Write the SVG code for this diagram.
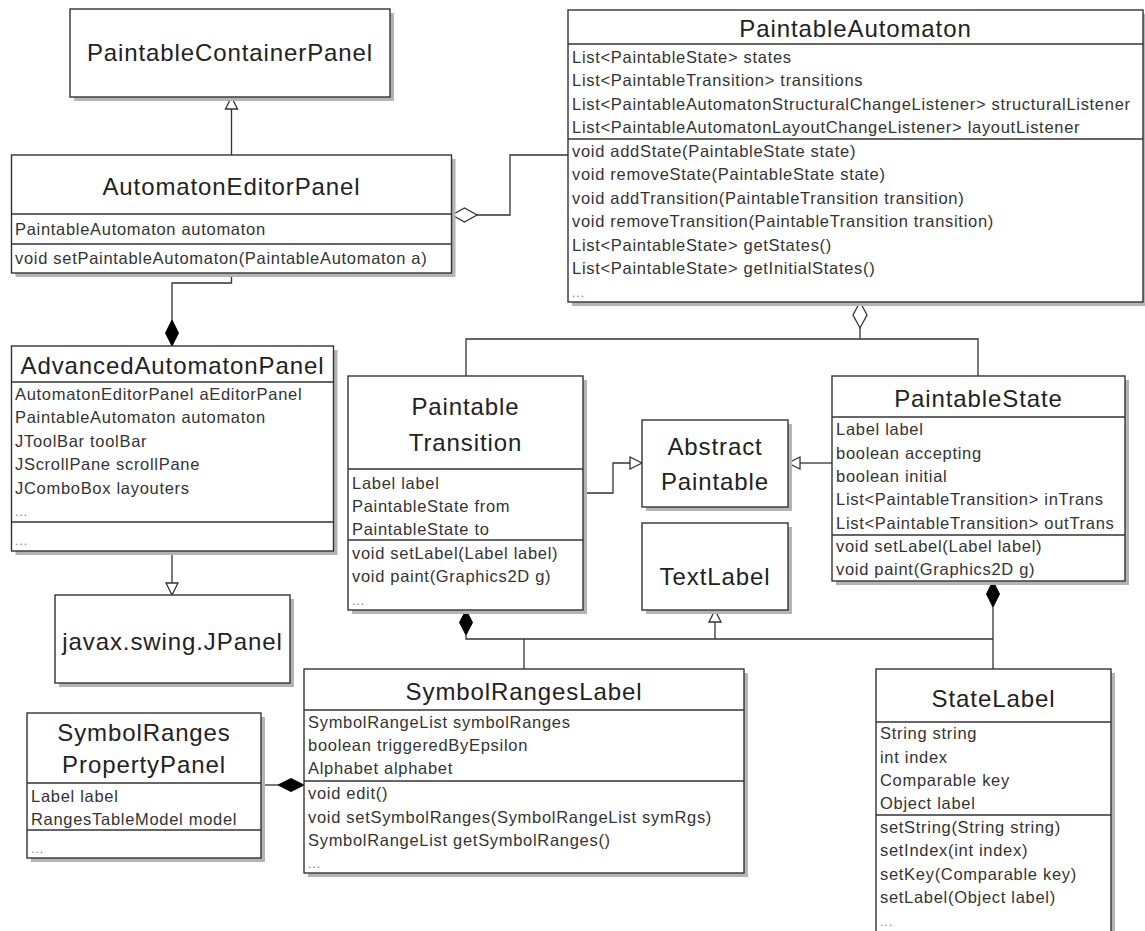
<svg xmlns="http://www.w3.org/2000/svg" width="1145" height="931" viewBox="0 0 1145 931">
  <style>
    .shadow { fill: #b4b4b4; filter: url(#soft); }
    .box { fill: #ffffff; stroke: #333333; stroke-width: 1.4; }
    .sep { stroke: #333333; stroke-width: 1.3; fill: none; }
    .title { font-family: "Liberation Sans", Arial, sans-serif; font-size: 24px; letter-spacing: 0.9px; fill: #222222; text-anchor: middle; }
    .txt { font-family: "Liberation Sans", Arial, sans-serif; font-size: 16.5px; letter-spacing: 0.7px; fill: #333333; }
    .dots { font-family: "Liberation Sans", Arial, sans-serif; font-size: 12px; letter-spacing: 1px; fill: #777777; }
    .conn { stroke: #333333; stroke-width: 1.3; fill: none; }
    .hollow { fill: #ffffff; stroke: #333333; stroke-width: 1.3; }
    .filled { fill: #000000; stroke: #000000; stroke-width: 1; }
  </style>
  <defs>
    <filter id="soft" x="-5%" y="-5%" width="110%" height="110%">
      <feGaussianBlur stdDeviation="0.5"/>
    </filter>
  </defs>
  <rect width="1145" height="931" fill="#ffffff"/>

  <!-- connectors -->
  <g id="connectors">
    <!-- AutomatonEditorPanel extends PaintableContainerPanel -->
    <path class="conn" d="M231.5,155 V109"/>
    <polygon class="hollow" points="231.5,97 225.5,109 237.5,109"/>
    <!-- AutomatonEditorPanel aggregates PaintableAutomaton -->
    <path class="conn" d="M477,215 H510 V155 H568"/>
    <polygon class="hollow" points="452,215 464.5,208 477,215 464.5,222"/>
    <!-- AdvancedAutomatonPanel composed with AutomatonEditorPanel -->
    <path class="conn" d="M231.5,273 V283 H172 V320"/>
    <polygon class="filled" points="172,320 178.5,333 172,346 165.5,333"/>
    <!-- AdvancedAutomatonPanel extends javax.swing.JPanel -->
    <path class="conn" d="M172,551 V583"/>
    <polygon class="hollow" points="172,595 166,583 178,583"/>
    <!-- PaintableAutomaton aggregates transitions and states -->
    <polygon class="hollow" points="860,302 867,315 860,328 853,315"/>
    <path class="conn" d="M860,328 V339"/>
    <path class="conn" d="M466,376 V339 H978 V376"/>
    <!-- PaintableTransition extends AbstractPaintable -->
    <path class="conn" d="M583,493 H613 V463 H630"/>
    <polygon class="hollow" points="642,463 630,457 630,469"/>
    <!-- PaintableState extends AbstractPaintable -->
    <path class="conn" d="M832,463 H800"/>
    <polygon class="hollow" points="788,463 800,457 800,469"/>
    <!-- labels: composition and TextLabel inheritance -->
    <polygon class="filled" points="466,610 472.5,622.5 466,635 459.5,622.5"/>
    <path class="conn" d="M466,635 V639 H993"/>
    <path class="conn" d="M524,639 V669"/>
    <path class="conn" d="M715,639 V622"/>
    <polygon class="hollow" points="715,610 709,622 721,622"/>
    <polygon class="filled" points="993,581 999.5,594 993,607 986.5,594"/>
    <path class="conn" d="M993,607 V669"/>
    <!-- SymbolRangesLabel composed with SymbolRangesPropertyPanel -->
    <path class="conn" d="M261,785 H278"/>
    <polygon class="filled" points="304,785 291,778.5 278,785 291,791.5"/>
  </g>

  <!-- PaintableContainerPanel -->
  <g id="PaintableContainerPanel">
    <rect class="shadow" x="74" y="13" width="320" height="88"/>
    <rect class="box" x="70" y="9" width="320" height="88"/>
    <text class="title" x="230" y="61">PaintableContainerPanel</text>
  </g>

  <!-- AutomatonEditorPanel -->
  <g id="AutomatonEditorPanel">
    <rect class="shadow" x="15.5" y="159" width="440" height="118"/>
    <rect class="box" x="11.5" y="155" width="440" height="118"/>
    <line class="sep" x1="11.5" y1="214" x2="451.5" y2="214"/>
    <line class="sep" x1="11.5" y1="244" x2="451.5" y2="244"/>
    <text class="title" x="231.5" y="195">AutomatonEditorPanel</text>
    <text class="txt" x="15" y="235">PaintableAutomaton automaton</text>
    <text class="txt" x="15" y="264">void setPaintableAutomaton(PaintableAutomaton a)</text>
  </g>

  <!-- PaintableAutomaton -->
  <g id="PaintableAutomaton">
    <rect class="shadow" x="572" y="14" width="575" height="292"/>
    <rect class="box" x="568" y="10" width="575" height="292"/>
    <line class="sep" x1="568" y1="44" x2="1143" y2="44"/>
    <line class="sep" x1="568" y1="139" x2="1143" y2="139"/>
    <text class="title" x="855.5" y="37">PaintableAutomaton</text>
    <text class="txt" x="572" y="63">List&lt;PaintableState&gt; states</text>
    <text class="txt" x="572" y="86">List&lt;PaintableTransition&gt; transitions</text>
    <text class="txt" x="572" y="110">List&lt;PaintableAutomatonStructuralChangeListener&gt; structuralListener</text>
    <text class="txt" x="572" y="133">List&lt;PaintableAutomatonLayoutChangeListener&gt; layoutListener</text>
    <text class="txt" x="572" y="157">void addState(PaintableState state)</text>
    <text class="txt" x="572" y="180">void removeState(PaintableState state)</text>
    <text class="txt" x="572" y="204">void addTransition(PaintableTransition transition)</text>
    <text class="txt" x="572" y="227">void removeTransition(PaintableTransition transition)</text>
    <text class="txt" x="572" y="251">List&lt;PaintableState&gt; getStates()</text>
    <text class="txt" x="572" y="274">List&lt;PaintableState&gt; getInitialStates()</text>
    <text class="dots" x="572" y="297">...</text>
  </g>

  <!-- AdvancedAutomatonPanel -->
  <g id="AdvancedAutomatonPanel">
    <rect class="shadow" x="15.5" y="350" width="322" height="205"/>
    <rect class="box" x="11.5" y="346" width="322" height="205"/>
    <line class="sep" x1="11.5" y1="382" x2="333.5" y2="382"/>
    <line class="sep" x1="11.5" y1="522" x2="333.5" y2="522"/>
    <text class="title" x="172.5" y="374">AdvancedAutomatonPanel</text>
    <text class="txt" x="15" y="400">AutomatonEditorPanel aEditorPanel</text>
    <text class="txt" x="15" y="423">PaintableAutomaton automaton</text>
    <text class="txt" x="15" y="447">JToolBar toolBar</text>
    <text class="txt" x="15" y="470">JScrollPane scrollPane</text>
    <text class="txt" x="15" y="494">JComboBox layouters</text>
    <text class="dots" x="15" y="516">...</text>
    <text class="dots" x="15" y="545">...</text>
  </g>

  <!-- javax.swing.JPanel -->
  <g id="JPanel">
    <rect class="shadow" x="59" y="599" width="235" height="88"/>
    <rect class="box" x="55" y="595" width="235" height="88"/>
    <text class="title" x="172.5" y="650">javax.swing.JPanel</text>
  </g>

  <!-- PaintableTransition -->
  <g id="PaintableTransition">
    <rect class="shadow" x="352" y="380" width="235" height="234"/>
    <rect class="box" x="348" y="376" width="235" height="234"/>
    <line class="sep" x1="348" y1="469" x2="583" y2="469"/>
    <line class="sep" x1="348" y1="540" x2="583" y2="540"/>
    <text class="title" x="465.5" y="415">Paintable</text>
    <text class="title" x="465.5" y="451">Transition</text>
    <text class="txt" x="352" y="489">Label label</text>
    <text class="txt" x="352" y="512">PaintableState from</text>
    <text class="txt" x="352" y="535">PaintableState to</text>
    <text class="txt" x="352" y="559">void setLabel(Label label)</text>
    <text class="txt" x="352" y="582">void paint(Graphics2D g)</text>
    <text class="dots" x="352" y="605">...</text>
  </g>

  <!-- AbstractPaintable -->
  <g id="AbstractPaintable">
    <rect class="shadow" x="646" y="424" width="146" height="87"/>
    <rect class="box" x="642" y="420" width="146" height="87"/>
    <text class="title" x="715" y="455">Abstract</text>
    <text class="title" x="715" y="490">Paintable</text>
  </g>

  <!-- TextLabel -->
  <g id="TextLabel">
    <rect class="shadow" x="646" y="527" width="146" height="87"/>
    <rect class="box" x="642" y="523" width="146" height="87"/>
    <text class="title" x="715" y="585">TextLabel</text>
  </g>

  <!-- PaintableState -->
  <g id="PaintableState">
    <rect class="shadow" x="836" y="380" width="293" height="205"/>
    <rect class="box" x="832" y="376" width="293" height="205"/>
    <line class="sep" x1="832" y1="417" x2="1125" y2="417"/>
    <line class="sep" x1="832" y1="535" x2="1125" y2="535"/>
    <text class="title" x="978.5" y="407">PaintableState</text>
    <text class="txt" x="836" y="435">Label label</text>
    <text class="txt" x="836" y="459">boolean accepting</text>
    <text class="txt" x="836" y="482">boolean initial</text>
    <text class="txt" x="836" y="505">List&lt;PaintableTransition&gt; inTrans</text>
    <text class="txt" x="836" y="529">List&lt;PaintableTransition&gt; outTrans</text>
    <text class="txt" x="836" y="552">void setLabel(Label label)</text>
    <text class="txt" x="836" y="575">void paint(Graphics2D g)</text>
  </g>

  <!-- SymbolRangesPropertyPanel -->
  <g id="SymbolRangesPropertyPanel">
    <rect class="shadow" x="31" y="717" width="234" height="145"/>
    <rect class="box" x="27" y="713" width="234" height="145"/>
    <line class="sep" x1="27" y1="783" x2="261" y2="783"/>
    <line class="sep" x1="27" y1="830" x2="261" y2="830"/>
    <text class="title" x="144" y="741">SymbolRanges</text>
    <text class="title" x="144" y="773">PropertyPanel</text>
    <text class="txt" x="31" y="802">Label label</text>
    <text class="txt" x="31" y="825">RangesTableModel model</text>
    <text class="dots" x="31" y="853">...</text>
  </g>

  <!-- SymbolRangesLabel -->
  <g id="SymbolRangesLabel">
    <rect class="shadow" x="308" y="673" width="440" height="204"/>
    <rect class="box" x="304" y="669" width="440" height="204"/>
    <line class="sep" x1="304" y1="710" x2="744" y2="710"/>
    <line class="sep" x1="304" y1="781" x2="744" y2="781"/>
    <text class="title" x="524" y="700">SymbolRangesLabel</text>
    <text class="txt" x="308" y="728">SymbolRangeList symbolRanges</text>
    <text class="txt" x="308" y="751">boolean triggeredByEpsilon</text>
    <text class="txt" x="308" y="774">Alphabet alphabet</text>
    <text class="txt" x="308" y="799">void edit()</text>
    <text class="txt" x="308" y="823">void setSymbolRanges(SymbolRangeList symRgs)</text>
    <text class="txt" x="308" y="846">SymbolRangeList getSymbolRanges()</text>
    <text class="dots" x="308" y="868">...</text>
  </g>

  <!-- StateLabel (runs past the lower edge) -->
  <g id="StateLabel">
    <rect class="shadow" x="880" y="673" width="235" height="280"/>
    <rect class="box" x="876" y="669" width="235" height="280"/>
    <line class="sep" x1="876" y1="722" x2="1111" y2="722"/>
    <line class="sep" x1="876" y1="815" x2="1111" y2="815"/>
    <text class="title" x="993.5" y="707">StateLabel</text>
    <text class="txt" x="880" y="739">String string</text>
    <text class="txt" x="880" y="763">int index</text>
    <text class="txt" x="880" y="786">Comparable key</text>
    <text class="txt" x="880" y="809">Object label</text>
    <text class="txt" x="880" y="833">setString(String string)</text>
    <text class="txt" x="880" y="856">setIndex(int index)</text>
    <text class="txt" x="880" y="880">setKey(Comparable key)</text>
    <text class="txt" x="880" y="903">setLabel(Object label)</text>
    <text class="dots" x="880" y="926">...</text>
  </g>
</svg>
